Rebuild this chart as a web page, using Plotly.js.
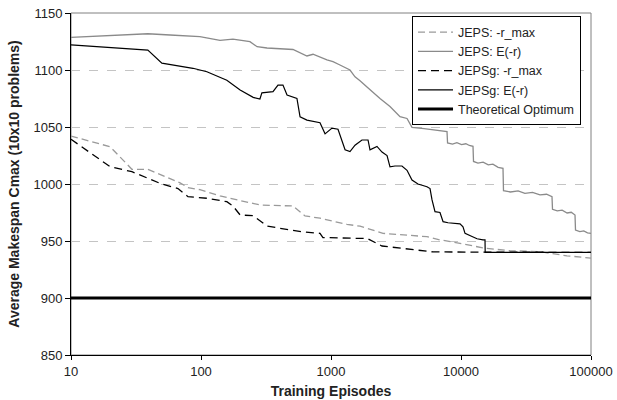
<!DOCTYPE html>
<html>
<head>
<meta charset="utf-8">
<script src="https://cdn.plot.ly/plotly-3.0.1.min.js"></script>
<style>html,body{margin:0;padding:0;background:#fff;}#chart{width:617px;height:400px;}</style>
</head>
<body>
<div id="chart"></div>
<script>
// ---- data ----
var seriesNames = ["JEPS: -r_max", "JEPS: E(-r)", "JEPSg: -r_max", "JEPSg: E(-r)", "Theoretical Optimum"];

var jepsRmaxX = [10, 20, 29.4, 39, 69, 79.4, 98, 140, 167, 284, 510, 631, 823, 1327, 1672, 2512, 5471, 6893, 9823, 15300, 23830, 40550, 65310, 100000];
var jepsRmaxY = [1042, 1032.7, 1012.9, 1012.9, 1001, 996.8, 995, 989.5, 987.5, 981.6, 980.7, 972, 970, 964.6, 963, 956.7, 953.8, 951, 948, 943.6, 941.5, 940.6, 937, 935];

var jepsErX = [10, 39, 57.8, 98, 140, 176, 238, 270, 322, 510, 653, 727, 931, 1036, 1172, 1400, 1530, 1672, 1892, 2068, 2382, 2843, 3395, 3843, 4198, 5200, 6400, 7805,
  7880, 8600, 9300, 10100, 10900, 11600, 12370,
  12480, 13500, 14800, 16200, 17600, 19300, 21040,
  21230, 24000, 27500, 31000, 35500, 40500, 45500, 50120,
  50570, 55000, 60000, 65500, 70500, 75340,
  76000, 82000, 88000, 94000, 100000];
var jepsErY = [1128.7, 1131.8, 1130.7, 1129.2, 1126, 1127, 1124.8, 1120.4, 1119.3, 1118, 1112.3, 1113.8, 1108.8, 1107.3, 1104.4, 1100, 1094, 1090.6, 1085, 1081, 1075, 1068, 1059, 1057.5, 1049.7, 1048.5, 1047.2, 1046,
  1036, 1035, 1036.2, 1034.6, 1035.3, 1033.8, 1033,
  1019.8, 1018.4, 1019.2, 1016.8, 1017.4, 1014.6, 1013.7,
  994.2, 993, 994, 991.8, 992.6, 990.4, 991, 988.9,
  977.8, 976.4, 977, 974.6, 975.2, 972.8,
  959.6, 958.2, 958.8, 957.2, 956.7];

var jepsgRmaxX = [10, 20, 29.4, 48.4, 66.5, 79.4, 111, 158, 176, 200, 252, 322, 405, 610, 823, 867, 1672, 1892, 2468, 4055, 6095, 100000];
var jepsgRmaxY = [1039.2, 1015.2, 1010.8, 1000.6, 996, 988.9, 987.5, 984.5, 980.7, 972.8, 972.2, 963.2, 961.1, 958, 956.7, 953, 952.3, 952.3, 945.6, 942.7, 940.4, 940];

var jepsgErX = [10, 39, 50, 86.7, 111, 158, 200, 252, 284, 294, 358, 391, 427, 459, 547, 578, 653, 823, 900, 1018, 1132, 1216, 1283, 1400, 1530, 1730, 1927, 1995, 2258, 2468, 2698, 2843, 3107, 3515, 3843, 4198, 4667, 5471, 5778, 5987, 6310, 6893, 7279, 7943, 9823, 10360, 10740, 12160, 13280, 14770, 15300, 15350, 100000];
var jepsgErY = [1122, 1117.5, 1106, 1101.5, 1098.5, 1091, 1082.5, 1076, 1074.6, 1080, 1081, 1086.8, 1086.8, 1078, 1075, 1059, 1056, 1053.8, 1044, 1049, 1048, 1037, 1030, 1028.4, 1034, 1038.6, 1038.6, 1030, 1033, 1028, 1025, 1015, 1015.8, 1015.8, 1012, 1003.5, 1000, 997.6, 996, 986, 975.7, 975, 967, 966, 965, 962.5, 956.7, 954, 952, 951, 951, 940, 940];

var optimumX = [10, 100000];
var optimumY = [900, 900];

var xTickVals = [10, 100, 1000, 10000, 100000];
var xTickText = ["10", "100", "1000", "10000", "100000"];
var yTickVals = [850, 900, 950, 1000, 1050, 1100, 1150];

// ---- chart ----
var FONT = "Liberation Sans, Arial, Helvetica, sans-serif";
var traces = [
  {x: jepsRmaxX, y: jepsRmaxY, name: seriesNames[0], mode: "lines", line: {color: "#9a9a9a", width: 1.3, dash: "7px,4px"}},
  {x: jepsErX, y: jepsErY, name: seriesNames[1], mode: "lines", line: {color: "#8a8a8a", width: 1.3}},
  {x: jepsgRmaxX, y: jepsgRmaxY, name: seriesNames[2], mode: "lines", line: {color: "#000000", width: 1.3, dash: "8px,5px"}},
  {x: jepsgErX, y: jepsgErY, name: seriesNames[3], mode: "lines", line: {color: "#000000", width: 1.2}},
  {x: optimumX, y: optimumY, name: seriesNames[4], mode: "lines", line: {color: "#000000", width: 3}}
];

var layout = {
  width: 617, height: 400,
  margin: {l: 71, r: 26, t: 13, b: 45},
  paper_bgcolor: "#ffffff", plot_bgcolor: "#ffffff",
  font: {family: FONT, size: 13, color: "#222"},
  showlegend: true,
  legend: {
    x: 0.6558, y: 0.99, xanchor: "left", yanchor: "top",
    bgcolor: "#ffffff", bordercolor: "#000000", borderwidth: 1,
    font: {family: FONT, size: 12.5, color: "#222"},
    itemwidth: 35, tracegroupgap: 0
  },
  xaxis: {
    type: "log", range: [1, 5],
    tickvals: xTickVals, ticktext: xTickText,
    showgrid: false, zeroline: false,
    showline: true, linecolor: "#000", linewidth: 1,
    ticks: "outside", ticklen: 4, tickcolor: "#000",
    tickfont: {family: FONT, size: 13, color: "#222"},
    title: {text: "Training Episodes", font: {family: FONT, size: 14, color: "#222", weight: "bold"}, standoff: 8},
    automargin: false
  },
  yaxis: {
    range: [850, 1150], tickvals: yTickVals,
    showgrid: true, gridcolor: "#c4c4c4", griddash: "dash", gridwidth: 1,
    zeroline: false,
    showline: true, linecolor: "#000", linewidth: 1,
    ticks: "outside", ticklen: 5, tickcolor: "#000",
    tickfont: {family: FONT, size: 13, color: "#222"},
    title: {text: "Average Makespan Cmax (10x10 problems)", font: {family: FONT, size: 14, color: "#222", weight: "bold"}, standoff: 10},
    automargin: false
  },
  shapes: [
    {type: "rect", xref: "paper", yref: "paper", x0: 0, x1: 1, y0: 0, y1: 1, line: {color: "#808080", width: 1}, layer: "below"}
  ]
};

Plotly.newPlot("chart", traces, layout, {staticPlot: true, displayModeBar: false});
</script>
</body>
</html>
